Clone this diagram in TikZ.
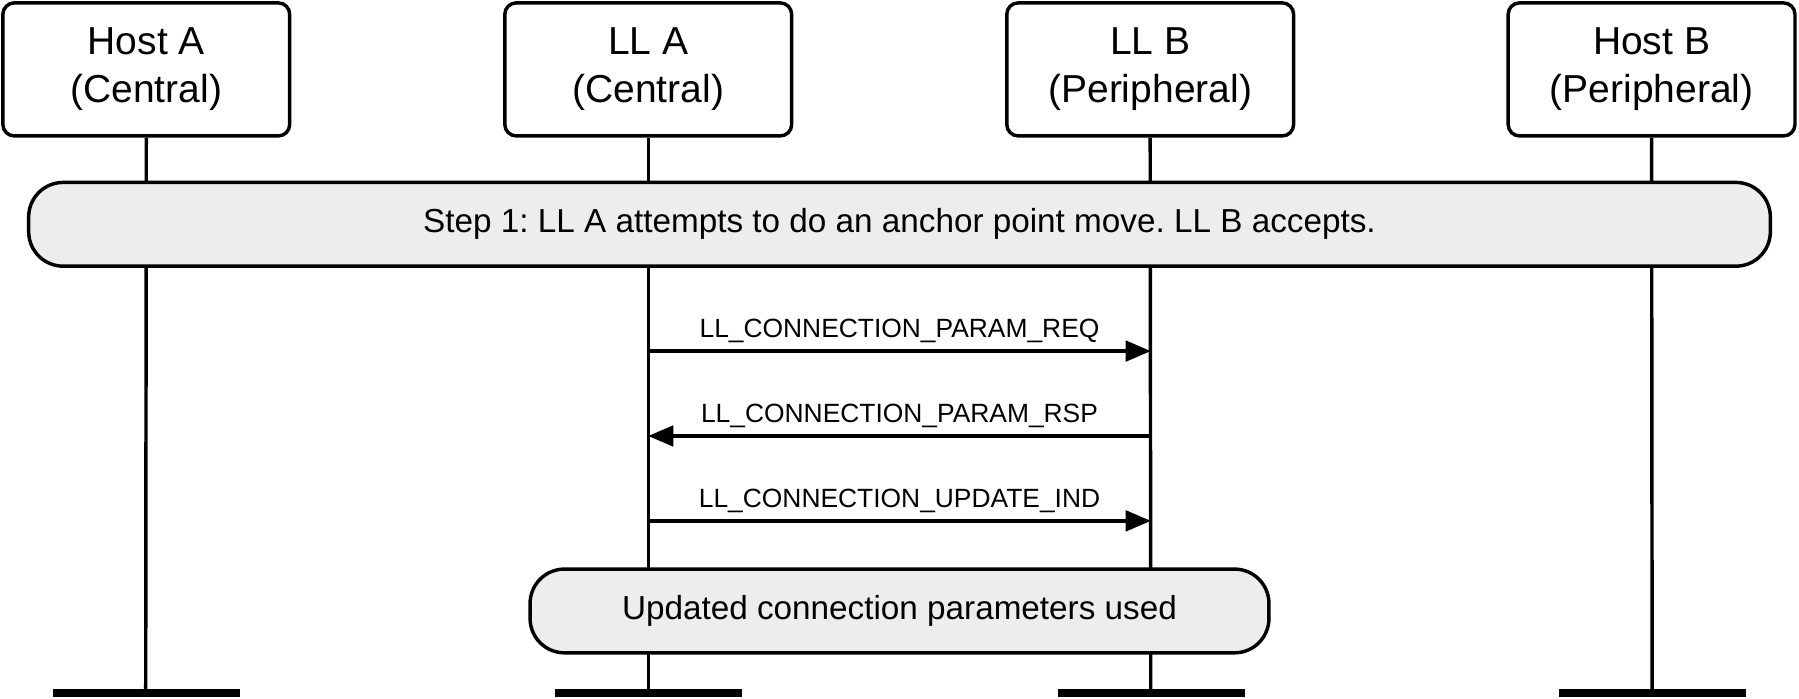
\documentclass[tikz,border=0pt]{standalone}
\usepackage{fontspec}
\setmainfont{Liberation Sans}
\usetikzlibrary{arrows.meta}
\begin{document}
\begin{tikzpicture}[x=1pt,y=-1pt,
  ent/.style={draw,line width=3pt,rounded corners=10pt,minimum width=250pt,minimum height=116pt,align=center,font=\fontsize{34}{42}\selectfont,inner sep=0pt},
  band/.style={draw,line width=3pt,rounded corners=30pt,fill=black!7,align=center,font=\fontsize{29}{34}\selectfont,inner sep=0pt},
  life/.style={line width=3pt},
  bar/.style={line width=7pt},
  msg/.style={line width=3pt,-{Triangle[length=22pt,width=18pt]}},
  lab/.style={font=\fontsize{23}{26}\selectfont,above=2pt}]
\useasboundingbox (0,0) rectangle (1568,609);
\node[ent] (ha) at (127.5,60.5) {Host A\\(Central)};
\node[ent] (la) at (565,60.5) {LL A\\(Central)};
\node[ent] (lb) at (1002.5,60.5) {LL B\\(Peripheral)};
\node[ent] (hb) at (1439.5,60.5) {Host B\\(Peripheral)};
\foreach \n/\x in {ha/127,la/565,lb/1003,hb/1440}{
  \coordinate (\n e) at (\x,604);
  \coordinate (\n l) at (\x-81,604);
  \coordinate (\n r) at (\x+82,604);
  \draw[life] (\n.south) -- (\n e);
  \draw[bar] (\n l) -- (\n r);
}
\node[band,minimum width=1518pt,minimum height=73pt] (s1) at (784,195.5) {Step 1:\ LL A attempts to do an anchor point move.\ LL B accepts.};
\coordinate (a1) at (565,306); \coordinate (b1) at (1003,306);
\coordinate (a2) at (565,380); \coordinate (b2) at (1003,380);
\coordinate (a3) at (565,454); \coordinate (b3) at (1003,454);
\draw[msg] (a1) -- node[lab] {LL\_CONNECTION\_PARAM\_REQ} (b1);
\draw[msg] (b2) -- node[lab] {LL\_CONNECTION\_PARAM\_RSP} (a2);
\draw[msg] (a3) -- node[lab] {LL\_CONNECTION\_UPDATE\_IND} (b3);
\node[band,minimum width=644pt,minimum height=73pt] (up) at (784,532.5) {Updated connection parameters used};
\end{tikzpicture}
\end{document}
